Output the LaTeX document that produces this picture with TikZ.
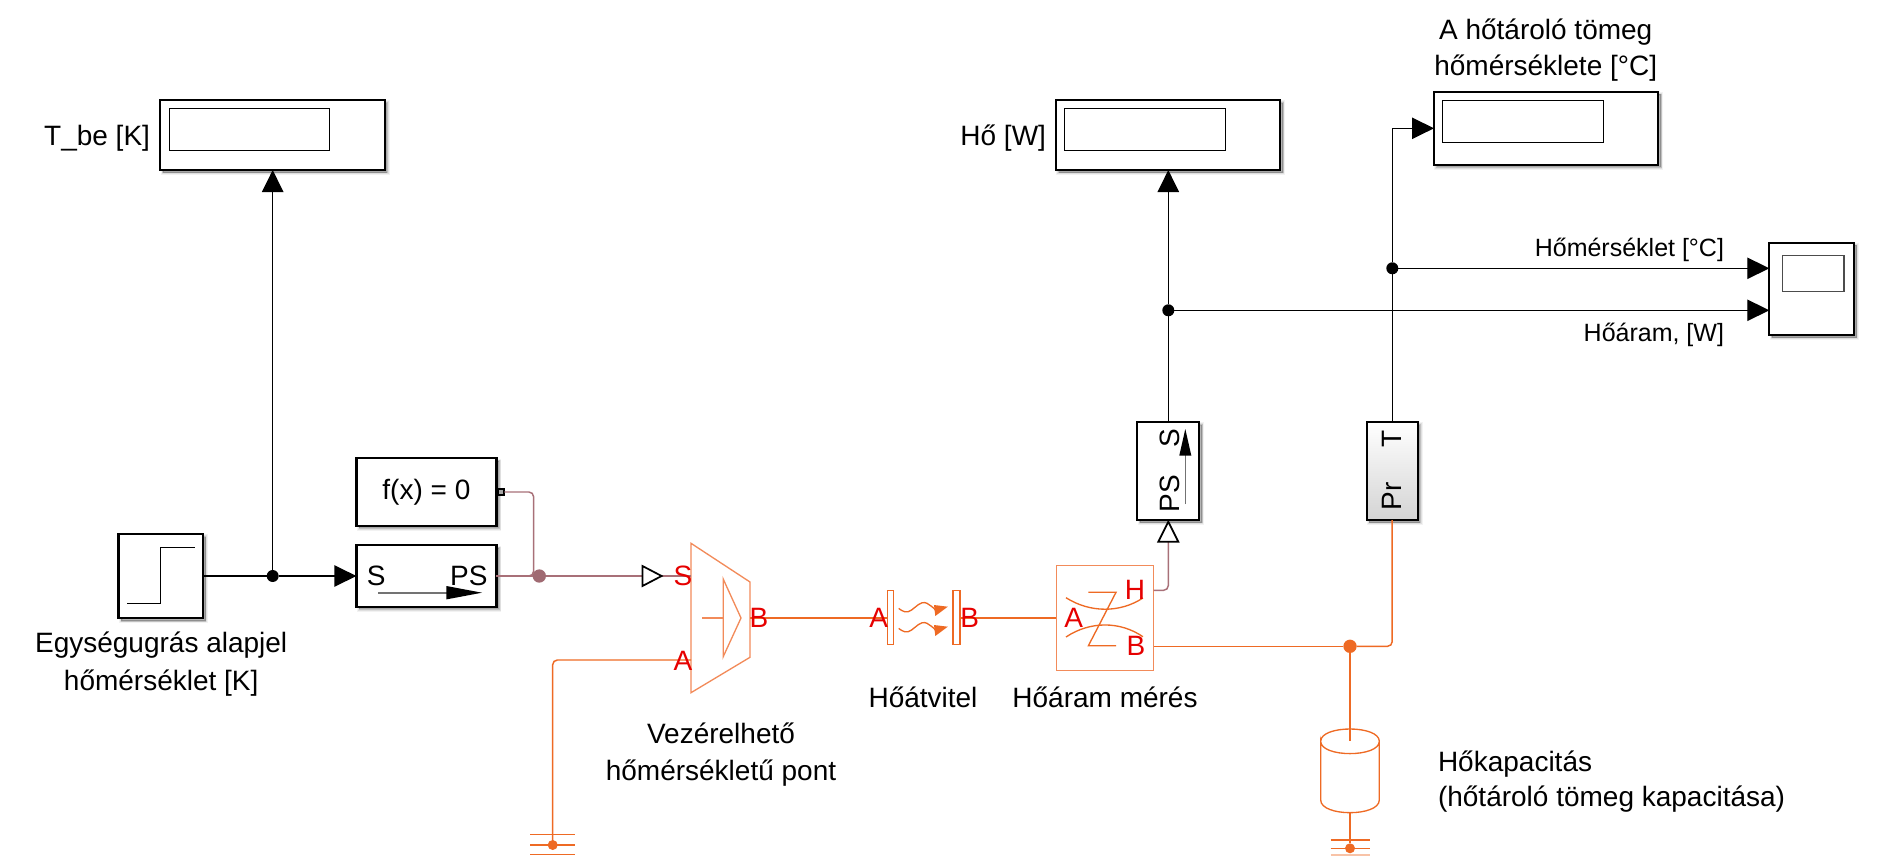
\documentclass[tikz,border=0pt]{standalone}
\usepackage{fontspec}
\setmainfont{Liberation Sans}
\usetikzlibrary{arrows.meta}
\definecolor{thermal}{HTML}{EE6A24}
\definecolor{thermallight}{HTML}{F28B5A}
\definecolor{phys}{HTML}{A87078}
\definecolor{portred}{HTML}{E60000}
\newcommand\blk[7]{\node[#6,minimum width={(#4-#2)*0.75pt},minimum height={(#5-#3)*0.75pt}] (#1) at ({(#2+#4)/2},{(#3+#5)/2}) {#7};}
\tikzset{
  lbl/.style={font=\fontsize{21}{27.3}\selectfont,inner sep=0pt,outer sep=0pt,align=center,text=black},
  smalllbl/.style={lbl,font=\fontsize{18.75}{24}\selectfont},
  plabel/.style={lbl,text=portred},
  softshadow/.style={
    preaction={draw=black,fill=black,line width=3.6pt,opacity=.05,transform canvas={shift={(2pt,-2pt)}}},
    preaction={draw=black,fill=black,line width=2.2pt,opacity=.08,transform canvas={shift={(2pt,-2pt)}}},
    preaction={draw=black,fill=black,line width=.8pt,opacity=.14,transform canvas={shift={(2pt,-2pt)}}}},
  blockbox/.style={softshadow,draw=black,fill=white,line width=1.7pt,inner sep=0pt,outer sep=0pt,lbl},
  screen/.style={draw=black,fill=white,line width=.9pt,inner sep=0pt,outer sep=0pt},
  sigwire/.style={draw=black,line width=1pt},
  sigarrow/.style={sigwire,-{Triangle[length=16.5pt,width=16pt]}},
  physwire/.style={draw=phys,line width=1.1pt,rounded corners=3.5pt},
  thermwire/.style={draw=thermal,line width=1.1pt,rounded corners=3.5pt},
  iconline/.style={draw=thermal,line width=1pt},
  iconlight/.style={draw=thermallight,line width=1pt},
  sigdot/.style={circle,fill=black,inner sep=0pt,minimum size=9pt,outer sep=0pt},
  physdot/.style={circle,fill=phys!95!black,inner sep=0pt,minimum size=10pt,outer sep=0pt},
  thermdot/.style={circle,fill=thermal,inner sep=0pt,minimum size=10pt,outer sep=0pt},
  grounddot/.style={circle,fill=thermal,inner sep=0pt,minimum size=7.5pt,outer sep=0pt},
  opentip/.style={draw=black,fill=white,line width=1.3pt,line join=miter},
}
\begin{document}
\begin{tikzpicture}[x=0.75pt,y=-0.75pt]
\useasboundingbox (0,0) rectangle (1879,864);
% ---- blocks
\blk{tbe}{160.3}{100}{384.7}{170}{blockbox}{}
\blk{tbescr}{169.3}{108.3}{329.3}{150.7}{screen}{}
\blk{ho}{1056}{100}{1280.3}{170}{blockbox}{}
\blk{hoscr}{1064.3}{108.3}{1225.7}{150.7}{screen}{}
\blk{mass}{1434}{91.7}{1658.3}{164.7}{blockbox}{}
\blk{massscr}{1442.3}{100.3}{1603.3}{142.3}{screen}{}
\blk{scope}{1769.3}{242.7}{1854}{335}{blockbox}{}
\blk{scopescr}{1782.3}{255.3}{1844}{291.7}{screen,draw=black!70}{}
\blk{step}{118.6}{534}{203}{618.3}{blockbox}{}
\blk{solver}{356.4}{458.3}{496.4}{525.7}{blockbox}{f(x) = 0}
\blk{stops}{356.4}{545.3}{496.4}{606.7}{blockbox}{}
\blk{pstos}{1137.3}{422}{1199.3}{520}{blockbox}{}
\blk{sensor}{1366.7}{422}{1417.7}{520}{blockbox,top color=white,middle color=white,bottom color=black!17}{}
% step icon
\draw[black,line width=1pt] (127,603.3) -- (160.7,603.3) -- (160.7,547.3) -- (195,547.3);
% S->PS icon
\node[lbl,anchor=base west] (sS) at (366.8,585) {S};
\node[lbl,anchor=base east] (sPS) at (487.5,585) {PS};
\draw[black!55,line width=1.2pt] (378,592.7) -- (447,592.7);
\fill[black] (446.4,586) -- (482,592.7) -- (446.4,599.4) -- cycle;
% PS->S icon
\node[lbl,rotate=90] (vS) at (1169.5,438.5) {S};
\node[lbl,rotate=90] (vPS) at (1169.5,493.5) {PS};
\draw[black!55,line width=1.2pt] (1185.3,504) -- (1185.3,455);
\fill[black] (1179.3,455.5) -- (1185.3,429) -- (1191.3,455.5) -- cycle;
% temperature sensor icon
\node[lbl,rotate=90] (vT) at (1392,438.5) {T};
\node[lbl,rotate=90] (vPr) at (1392,496) {Pr};
% solver port
\node[draw=black,fill=black!35,line width=1.3pt,minimum width=5pt,minimum height=4pt,inner sep=0pt,outer sep=0pt] (solvport) at (501,492) {};
% controlled temperature source
\draw[iconlight] (691,543.3) -- (750,582) -- (750,657.3) -- (691,692.7) -- cycle;
\draw[iconlight] (723.2,579) -- (741,618) -- (723.2,656.7) -- cycle;
\draw[iconlight] (702,618) -- (723.2,618);
\coordinate (srcS) at (691,576);
\coordinate (srcA) at (691,660);
\coordinate (srcB) at (750,618);
% conduction
\blk{ca}{887.5}{590.7}{893.8}{644.3}{draw=thermal,fill=white,line width=1pt,inner sep=0pt,outer sep=0pt}{}
\blk{cb}{953}{590.7}{960}{644.3}{draw=thermal,fill=white,line width=1pt,inner sep=0pt,outer sep=0pt}{}
\draw[iconline] plot[smooth,tension=.7] coordinates {(898.7,608.3) (908,611.8) (921.9,602.8) (931,606) (937,612)};
\draw[iconline] plot[smooth,tension=.7] coordinates {(898.7,628.3) (908,631.8) (921.9,622.8) (931,626) (937,632)};
\fill[thermal] (934,605) -- (947.8,606.7) -- (935.3,616) -- cycle;
\fill[thermal] (934,625) -- (947.8,626.7) -- (935.3,636) -- cycle;
% heat flow sensor
\blk{flow}{1056.3}{565.3}{1153.5}{670.7}{draw=thermallight,fill=white,line width=.8pt,inner sep=0pt,outer sep=0pt}{}
\draw[iconline] (1066,597.7) .. controls (1090,613) and (1120,613) .. (1142.9,598);
\draw[iconline] (1066,637) .. controls (1090,621) and (1120,621) .. (1142.9,636.7);
\draw[iconline] (1088.4,592.3) -- (1116,592.3) -- (1088.4,645.7) -- (1116,645.7);
% thermal mass
\coordinate (capC) at (1350,741.3);
\draw[iconline] (1320.7,741.3) .. controls (1320.7,724.9) and (1379.3,724.9) .. (1379.3,741.3) .. controls (1379.3,757.7) and (1320.7,757.7) .. (1320.7,741.3) -- (1320.7,800) .. controls (1320.7,816.9) and (1379.3,816.9) .. (1379.3,800) -- (1379.3,741.3);
\coordinate (capB) at (1350,812.7);
% grounds
\foreach \yy/\op in {834.3/1,845/1,854.7/1}{\draw[iconline,opacity=\op] (530.4,\yy) -- (574.5,\yy);}
\node[grounddot] (g1) at (552.7,845) {};
\foreach \yy/\op in {840/1,848.3/1,855/.4}{\draw[iconline,opacity=\op] (1330.7,\yy) -- (1370,\yy);}
\node[grounddot] (g2) at (1350,848.3) {};
% junctions
\node[sigdot] (j1) at (272.7,576) {};
\node[physdot] (j2) at (539.3,576) {};
\node[sigdot] (j3) at (1168.3,310.3) {};
\node[sigdot] (j4) at (1392.3,268.3) {};
\node[thermdot] (j5) at (1350,646.3) {};
% signal wires
\draw[sigwire] (step.east |- j1) -- (j1);
\draw[sigarrow] (j1) -- (stops.west |- j1);
\draw[sigarrow] (j1) -- (tbe.south -| j1);
\draw[sigwire] (pstos.north -| j3) -- (j3);
\draw[sigarrow] (j3) -- (ho.south -| j3);
\draw[sigarrow] (j3) -- (scope.west |- j3);
\draw[sigwire] (sensor.north -| j4) -- (j4);
\draw[sigarrow] (j4) -- (scope.west |- j4);
\coordinate (massin) at (mass.west |- 0,128.3);
\draw[sigarrow] (j4) -- (j4 |- massin) -- (massin);
% physical wires
\coordinate (psbend) at (533.6,576);
\coordinate (psup) at (533.6,492);
\draw[physwire] (solvport.east) -- (psup) -- (psbend) -- (j2);
\draw[physwire] (stops.east |- j2) -- (j2);
\coordinate (trin) at (642,576);
\coordinate (trout) at (661,576);
\draw[physwire] (j2) -- (trin);
\draw[physwire] (trout) -- (srcS);
\draw[opentip] (642.5,566) -- (661.6,576) -- (642.5,586) -- cycle;
\coordinate (hbase) at (1168.3,541.7);
\coordinate (hout) at (1153.5,590.3);
\draw[physwire] (hout) -- (hbase |- hout) -- (hbase);
\draw[opentip] (1158.3,541.7) -- (1168.3,521.7) -- (1178.3,541.7) -- cycle;
% thermal wires
\draw[thermwire] (g1.center) -- (552.7,660) -- (srcA);
\draw[thermwire] (srcB) -- (ca.west |- srcB);
\draw[thermwire] (cb.east |- srcB) -- (flow.west |- srcB);
\coordinate (bout) at (1153.5,646.3);
\draw[thermwire] (bout) -- (j5);
\draw[thermwire] (j5) -- (sensor.south |- j5) -- (sensor.south);
\draw[thermwire] (j5) -- (capC);
\draw[thermwire] (capB) -- (g2);
% port labels
\node[plabel,anchor=base] (lS) at (683,585) {S};
\node[plabel,anchor=base] (lA1) at (683,670) {A};
\node[plabel,anchor=base] (lB1) at (759,627.3) {B};
\node[plabel,anchor=base] (lA2) at (878.6,627.3) {A};
\node[plabel,anchor=base] (lB2) at (969.6,627.3) {B};
\node[plabel,anchor=base] (lA3) at (1073.7,627.3) {A};
\node[plabel,anchor=base] (lH) at (1135,599.3) {H};
\node[plabel,anchor=base] (lB3) at (1136,655.3) {B};
% captions
\node[lbl,anchor=base east] (ctbe) at (150,145) {T\_be [K]};
\node[lbl,anchor=base east] (cho) at (1046,145) {Hő [W]};
\node[lbl,anchor=base] (cmass1) at (1545.7,39.3) {A hőtároló tömeg};
\node[lbl,anchor=base] (cmass2) at (1545.7,75) {hőmérséklete [°C]};
\node[smalllbl,anchor=base east] (ctemp) at (1724,256) {Hőmérséklet [°C]};
\node[smalllbl,anchor=base east] (cflow) at (1724,341.7) {Hőáram, [W]};
\node[lbl,anchor=base] (cstep1) at (161.2,652.7) {Egységugrás alapjel};
\node[lbl,anchor=base] (cstep2) at (161.2,690) {hőmérséklet [K]};
\node[lbl,anchor=base] (csrc1) at (721,743.3) {Vezérelhető};
\node[lbl,anchor=base] (csrc2) at (721,780) {hőmérsékletű pont};
\node[lbl,anchor=base] (ccond) at (923,707.3) {Hőátvitel};
\node[lbl,anchor=base] (cflowm) at (1105,707.3) {Hőáram mérés};
\node[lbl,anchor=base west] (ccap1) at (1438,771) {Hőkapacitás};
\node[lbl,anchor=base west] (ccap2) at (1438,806.7) {(hőtároló tömeg kapacitása)};
\end{tikzpicture}
\end{document}
